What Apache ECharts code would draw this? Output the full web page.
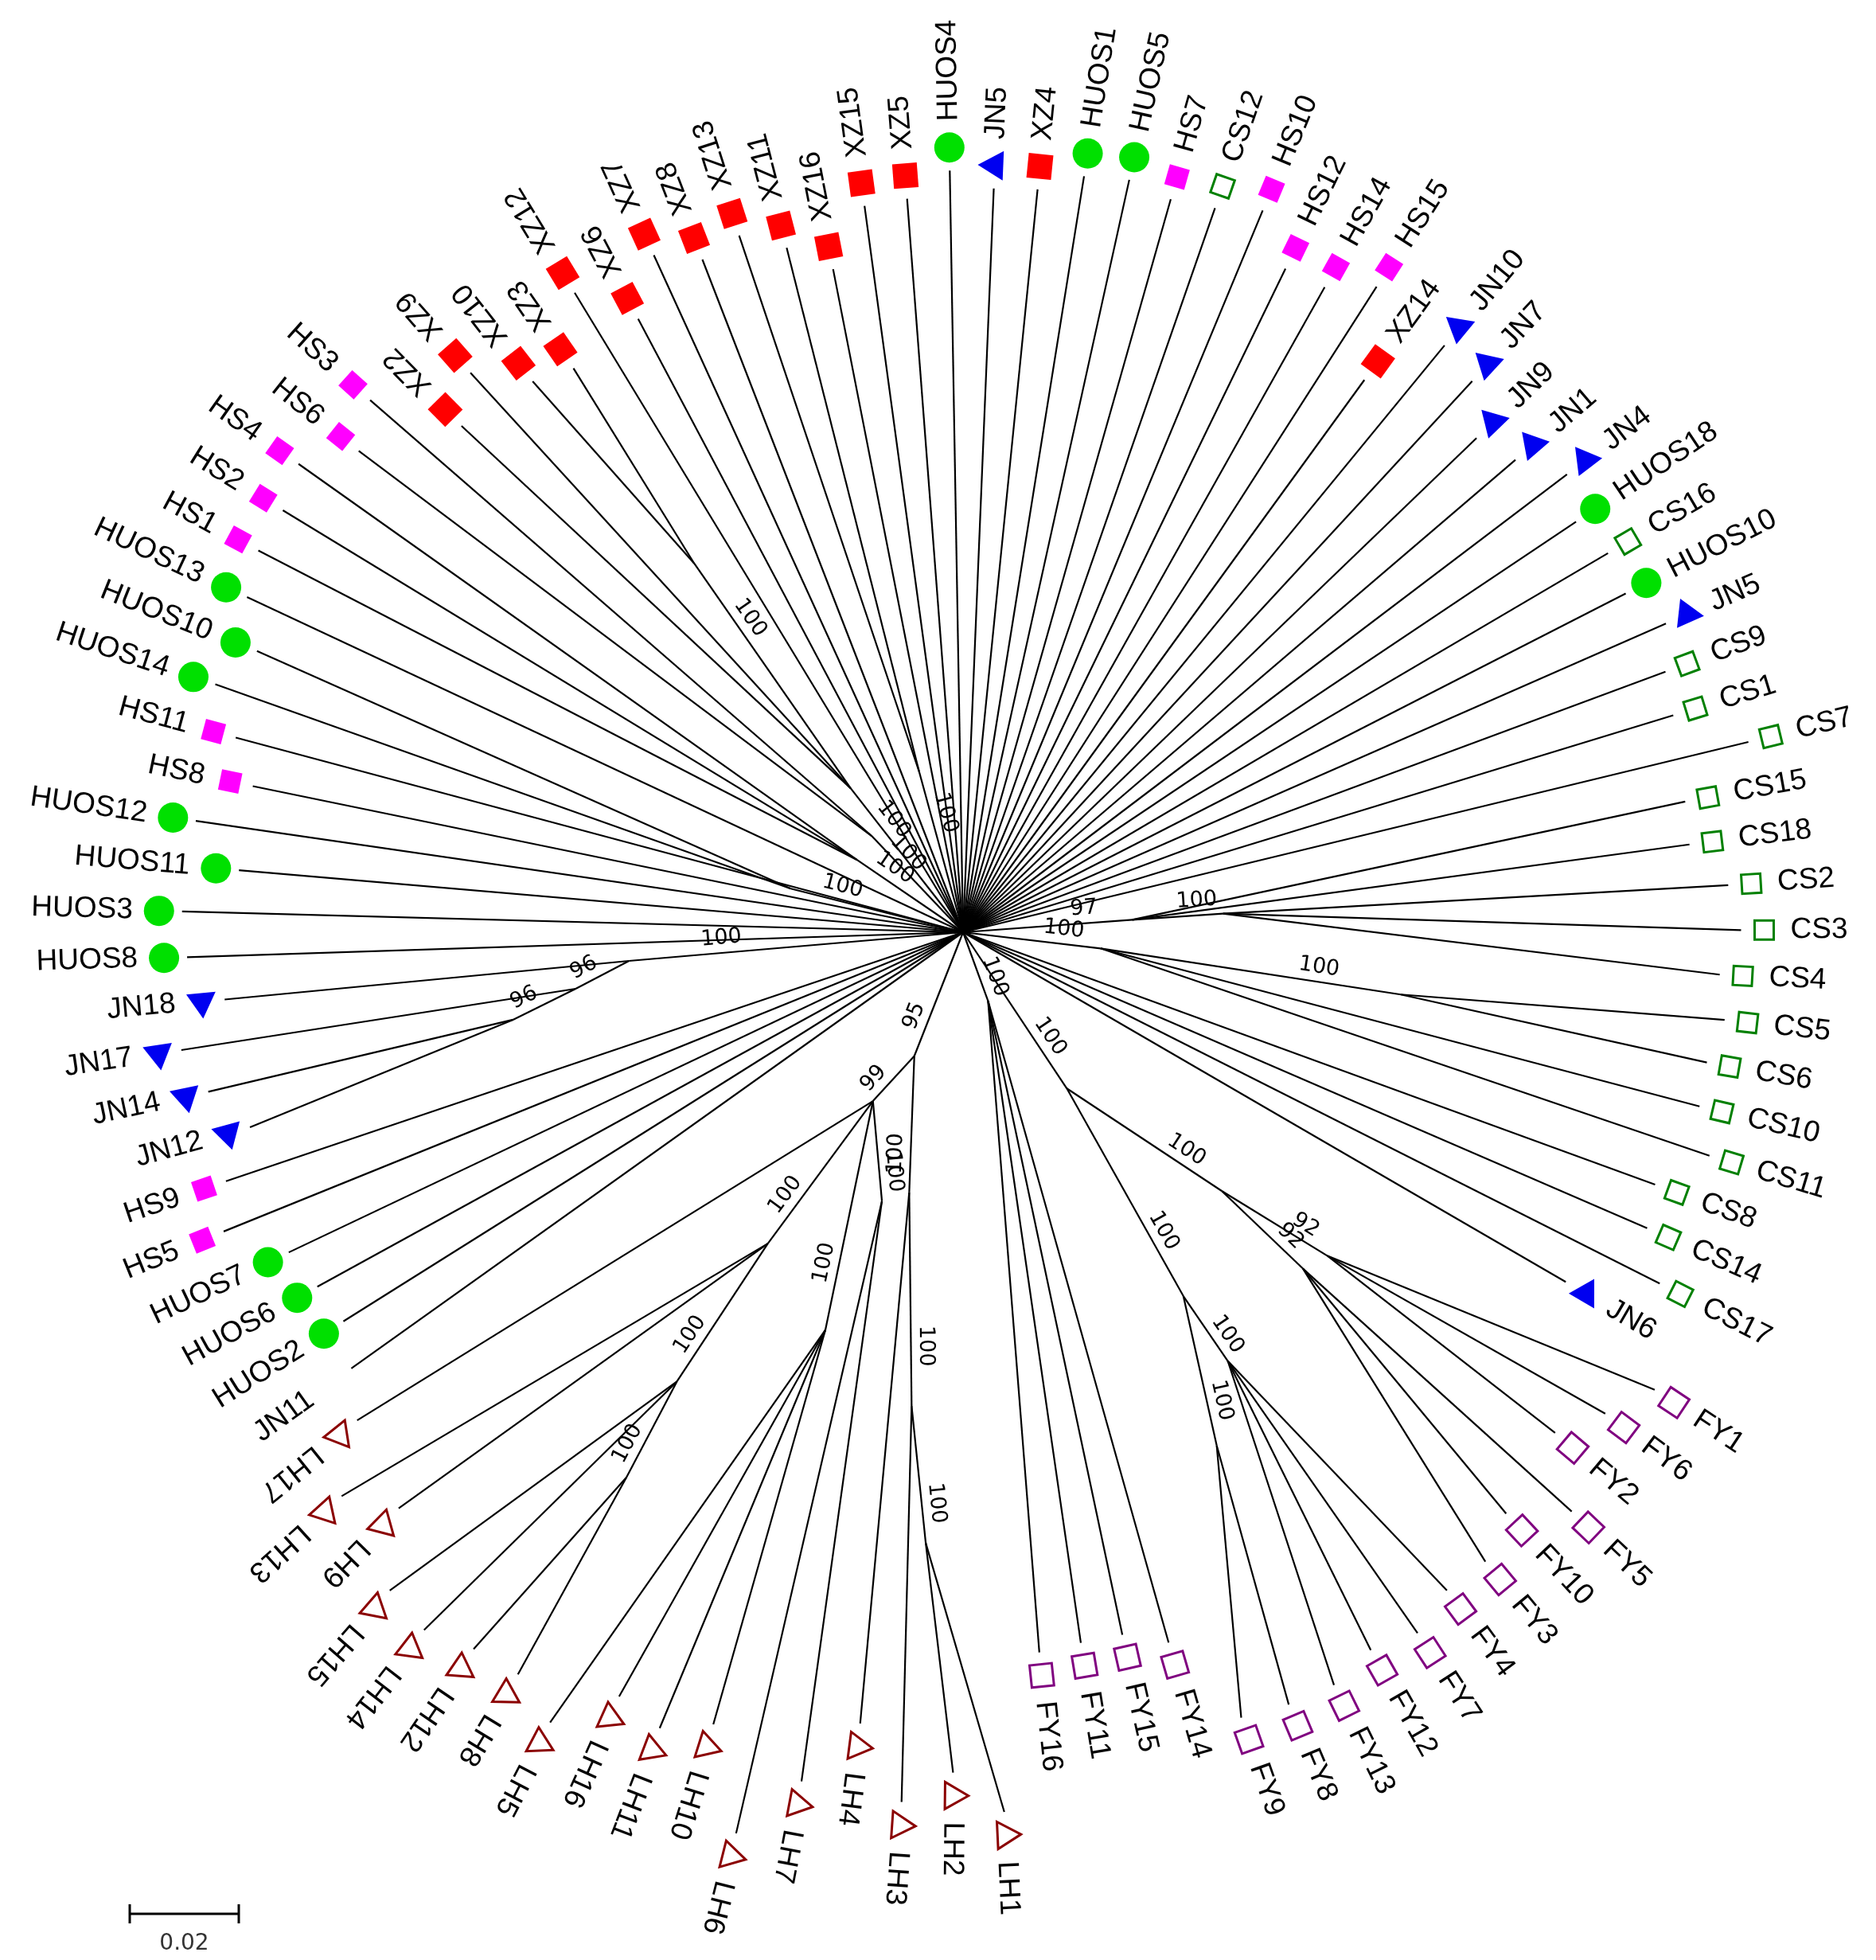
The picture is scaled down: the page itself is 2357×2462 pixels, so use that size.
<!DOCTYPE html>
<html>
<head>
<meta charset="UTF-8">
<title>Radial tree</title>
<script src="https://cdn.jsdelivr.net/npm/echarts/dist/echarts.min.js"></script>
<style>
  html, body { margin: 0; padding: 0; background: #fff; }
  #tree { width: 2357px; height: 2462px; }
</style>
</head>
<body>
<div id="tree"></div>
<script>
// leaves, clockwise from the top of the circle
var leafNames = ['HUOS4','JN5','XZ4','HUOS1','HUOS5','HS7','CS12','HS10','HS12','HS14',
  'HS15','XZ14','JN10','JN7','JN9','JN1','JN4','HUOS18','CS16','HUOS10',
  'JN5','CS9','CS1','CS7','CS15','CS18','CS2','CS3','CS4','CS5',
  'CS6','CS10','CS11','CS8','CS14','CS17','JN6','FY1','FY6','FY2',
  'FY5','FY10','FY3','FY4','FY7','FY12','FY13','FY8','FY9','FY14',
  'FY15','FY11','FY16','LH1','LH2','LH3','LH4','LH7','LH6','LH10',
  'LH11','LH16','LH5','LH8','LH12','LH14','LH15','LH9','LH13','LH17',
  'JN11','HUOS2','HUOS6','HUOS7','HS5','HS9','JN12','JN14','JN17','JN18',
  'HUOS8','HUOS3','HUOS11','HUOS12','HS8','HS11','HUOS14','HUOS10','HUOS13','HS1',
  'HS2','HS4','HS6','HS3','XZ2','XZ9','XZ10','XZ3','XZ12','XZ6',
  'XZ7','XZ8','XZ13','XZ11','XZ16','XZ15','XZ5'];

// distance of each tip from the centre (substitutions per site)
var leafDist = [0.1397,0.1365,0.1369,0.1404,0.1413,0.1397,0.1406,0.1433,0.1353,0.1356,
  0.1406,0.1252,0.1392,0.1376,0.1307,0.1333,0.1390,0.1353,0.1372,0.1365,
  0.1408,0.1374,0.1362,0.1482,0.1346,0.1342,0.1406,0.1427,0.1390,0.1406,
  0.1385,0.1388,0.1429,0.1351,0.1367,0.1431,0.1278,0.1521,0.1472,0.1422,
  0.1541,0.1459,0.1500,0.1498,0.1532,0.1514,0.1539,0.1537,0.1528,0.1356,
  0.1321,0.1321,0.1328,0.1615,0.1541,0.1599,0.1463,0.1585,0.1704,0.1523,
  0.1562,0.1537,0.1635,0.1587,0.1592,0.1617,0.1601,0.1479,0.1539,0.1427,
  0.1378,0.1342,0.1351,0.1369,0.1463,0.1427,0.1356,0.1415,0.1450,0.1360,
  0.1424,0.1433,0.1333,0.1422,0.1330,0.1381,0.1445,0.1394,0.1450,0.1470,
  0.1468,0.1491,0.1417,0.1461,0.1307,0.1367,0.1282,0.1257,0.1372,0.1273,
  0.1365,0.1323,0.1342,0.1296,0.1239,0.1344,0.1349];

var unmarked = ['JN11'];

// internal nodes
var nodeId      = ['FY','FYa','FYa1','FYa2','FYb','FYb1','FYb2','FYc',
  'LH','LHa','LHb','LHc','LHd','LHe','LHf','LHg','LHh','LHi',
  'JN','JN2','JN3','CSa0','CSa','CSb0','CSb','XZ','XZa','XZb','HU','HS','HSb'];
var nodeParent  = ['root','FY','FYa','FYa','FY','FYb','FYb','root',
  'root','LH','LHa','LHb','LH','LHd','LHe','LHf','LHd','LHd',
  'root','JN','JN2','root','CSa0','root','CSb0','root','XZ','root','root','root','root'];
var nodeAngle   = [146.4,135,131.6,134.7,148.8,148.3,153.7,160,
  201.5,191.7,186.2,183.5,208.1,212.1,212.5,211.7,199.1,196.8,
  265.1,261.7,259,85.8,85.9,96.7,98.1,322,323.9,344.7,284.2,304.3,316.5];
var nodeDist    = [0.0344,0.0671,0.0894,0.0877,0.0780,0.0924,0.1050,0.0134,
  0.0244,0.0487,0.0874,0.1122,0.0351,0.0674,0.0977,0.1175,0.0772,0.0515,
  0.0615,0.0718,0.0841,0.0311,0.0478,0.0254,0.0811,0.0335,0.0837,0.0305,0.0326,0.0236,0.0243];
var nodeSupport = [100,100,92,92,100,100,100,100,
  95,100,100,100,99,100,100,100,100,100,
  100,96,96,97,100,100,100,100,100,100,100,100,100];
var nodeLeaves  = [[],[],[37,38,39],[40,41,42],[],[43,44,45,46],[47,48],[49,50,51,52],
  [],[56],[55],[53,54],[69],[67,68],[65,66],[63,64],[59,60,61,62],[57,58],
  [79],[78],[77,76],[24,25],[26,27,28],[31,32],[29,30],[94,95],[96,97],[102,103],[86,87],[89,90,91],[92,93]];

var scaleValue = 0.02;

var groupStyle = {
  HUOS: { shape: 'circle',   fill: '#00e000', size: 38 },
  JN:   { shape: 'triangle', fill: '#0000f0', size: 37 },
  XZ:   { shape: 'square',   fill: '#ff0000', size: 31 },
  HS:   { shape: 'square',   fill: '#ff00ff', size: 26 },
  CS:   { shape: 'square',   fill: 'none', stroke: '#008000', size: 24 },
  FY:   { shape: 'square',   fill: 'none', stroke: '#800080', size: 28 },
  LH:   { shape: 'triangle', fill: 'none', stroke: '#8b0000', size: 34 }
};

var polarRadius = 1370, radiusMax = 0.2;
var angleStart = -1;
var angleStep = 360 / leafNames.length;
function leafAngle(i) { return angleStart + i * angleStep; }

var parentOfLeaf = leafNames.map(function () { return 'root'; });
nodeLeaves.forEach(function (list, k) {
  list.forEach(function (i) { parentOfLeaf[i] = nodeId[k]; });
});
function nodePos(id) {
  if (id === 'root') return [0, 0];
  var k = nodeId.indexOf(id);
  return [nodeDist[k], nodeAngle[k]];
}

var branchData = [];
nodeId.forEach(function (id, k) {
  var p = nodePos(nodeParent[k]);
  branchData.push([nodeDist[k], nodeAngle[k], p[0], p[1]]);
});
leafNames.forEach(function (n, i) {
  var p = nodePos(parentOfLeaf[i]);
  branchData.push([leafDist[i], leafAngle(i), p[0], p[1]]);
});
var leafData = leafNames.map(function (n, i) { return [leafDist[i], leafAngle(i)]; });
var nodeData = nodeId.map(function (id, k) {
  var p = nodePos(nodeParent[k]);
  return [nodeDist[k], nodeAngle[k], p[0], p[1]];
});

function renderBranch(params, api) {
  var a = api.coord([api.value(2), api.value(3)]);
  var b = api.coord([api.value(0), api.value(1)]);
  return { type: 'line', shape: { x1: a[0], y1: a[1], x2: b[0], y2: b[1] },
    style: { stroke: '#000', lineWidth: 2.2 } };
}

function renderLeaf(params, api) {
  var i = params.dataIndex;
  var name = leafNames[i];
  var ang = leafAngle(i);
  var tip = api.coord([leafDist[i], ang]);
  var c = api.coord([0, ang]);
  var dx = tip[0] - c[0], dy = tip[1] - c[1];
  var len = Math.sqrt(dx * dx + dy * dy);
  var ux = dx / len, uy = dy / len;
  var tx = uy, ty = -ux;
  var g = groupStyle[name.replace(/\d+$/, '')];
  var mx = tip[0] + ux * 29, my = tip[1] + uy * 29;
  var st = g.fill === 'none'
    ? { fill: 'none', stroke: g.stroke, lineWidth: 3 }
    : { fill: g.fill };
  var kids = [];
  if (unmarked.indexOf(name) < 0) {
    var s = g.size, h = s / 2;
    if (g.shape === 'circle') {
      kids.push({ type: 'circle', shape: { cx: mx, cy: my, r: h }, style: st });
    } else if (g.shape === 'square') {
      kids.push({ type: 'polygon', shape: { points: [
        [mx + ux * h + tx * h, my + uy * h + ty * h],
        [mx + ux * h - tx * h, my + uy * h - ty * h],
        [mx - ux * h - tx * h, my - uy * h - ty * h],
        [mx - ux * h + tx * h, my - uy * h + ty * h]] }, style: st });
    } else {
      kids.push({ type: 'polygon', shape: { points: [
        [mx + tx * s * 0.577, my + ty * s * 0.577],
        [mx - tx * s * 0.289 + ux * h, my - ty * s * 0.289 + uy * h],
        [mx - tx * s * 0.289 - ux * h, my - ty * s * 0.289 - uy * h]] }, style: st });
    }
  }
  var a = ((ang % 360) + 360) % 360;
  var inward = a > 233 && a < 313.5;
  var rot = inward ? Math.atan2(uy, -ux) : Math.atan2(-uy, ux);
  var align = inward ? 'right' : 'left';
  kids.push({ type: 'text', x: tip[0] + ux * 62, y: tip[1] + uy * 62, rotation: rot,
    style: { text: name, fill: '#000', font: '37px "Liberation Sans", Arial, sans-serif',
      textAlign: align, textVerticalAlign: 'middle', align: align, verticalAlign: 'middle' } });
  return { type: 'group', children: kids };
}

function renderSupport(params, api) {
  var k = params.dataIndex;
  var a = api.coord([api.value(2), api.value(3)]);
  var b = api.coord([api.value(0), api.value(1)]);
  var dx = b[0] - a[0], dy = b[1] - a[1];
  var len = Math.sqrt(dx * dx + dy * dy);
  var wx = dx / len, wy = dy / len;
  if (wx < 0) { wx = -wx; wy = -wy; }
  var px = a[0] + dx * 0.72 + wy * 5, py = a[1] + dy * 0.72 - wx * 5;
  return { type: 'text', x: px, y: py, rotation: Math.atan2(-wy, wx),
    style: { text: String(nodeSupport[k]), fill: '#000', font: '27px "DejaVu Sans", sans-serif',
      textAlign: 'center', textVerticalAlign: 'bottom', align: 'center', verticalAlign: 'bottom' } };
}

var chart = echarts.init(document.getElementById('tree'));
var barLen = scaleValue * polarRadius / radiusMax;
var barX = 163, barY = 2404;

chart.setOption({
  animation: false,
  backgroundColor: '#fff',
  polar: { center: [1210, 1171], radius: [0, polarRadius] },
  angleAxis: { type: 'value', min: 0, max: 360, startAngle: 90, clockwise: true, show: false },
  radiusAxis: { type: 'value', min: 0, max: radiusMax, show: false },
  series: [
    { type: 'custom', coordinateSystem: 'polar', renderItem: renderBranch, data: branchData, silent: true, z: 1 },
    { type: 'custom', coordinateSystem: 'polar', renderItem: renderLeaf, data: leafData, silent: true, z: 2 },
    { type: 'custom', coordinateSystem: 'polar', renderItem: renderSupport, data: nodeData, silent: true, z: 3 }
  ],
  graphic: [
    { type: 'line', shape: { x1: barX, y1: barY, x2: barX + barLen, y2: barY }, style: { stroke: '#000', lineWidth: 3 } },
    { type: 'line', shape: { x1: barX, y1: barY - 12, x2: barX, y2: barY + 12 }, style: { stroke: '#000', lineWidth: 3 } },
    { type: 'line', shape: { x1: barX + barLen, y1: barY - 12, x2: barX + barLen, y2: barY + 12 }, style: { stroke: '#000', lineWidth: 3 } },
    { type: 'text', x: barX + barLen / 2, y: barY + 24,
      style: { text: '0.02', fill: '#333', font: '28px "DejaVu Sans", sans-serif',
        textAlign: 'center', textVerticalAlign: 'top', align: 'center', verticalAlign: 'top' } }
  ]
});
</script>
</body>
</html>
